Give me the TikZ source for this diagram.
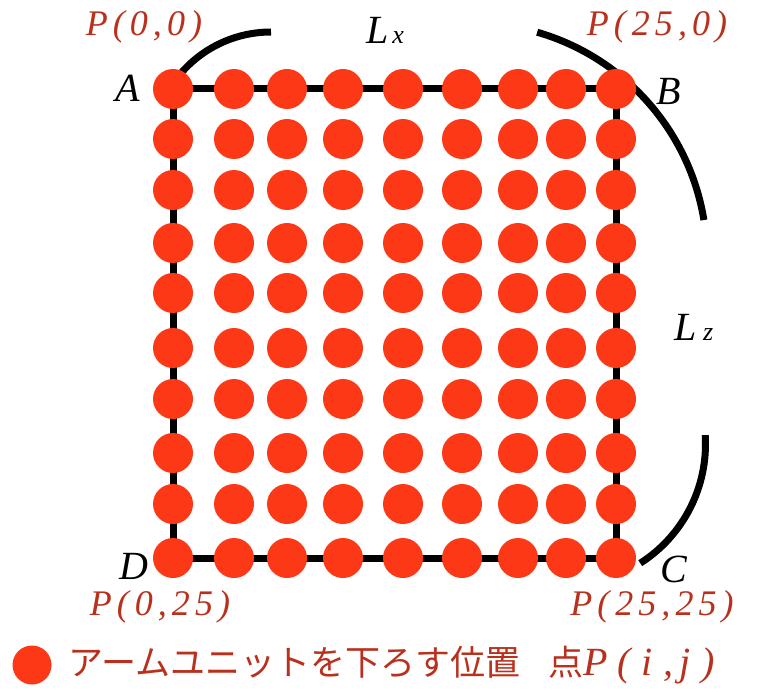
\documentclass[tikz,border=0pt]{standalone}
\usepackage{fontspec}
\setmainfont{Liberation Serif}
\newfontfamily\jpfont{Noto Sans CJK JP}
\newfontfamily\plab[LetterSpace=14]{Liberation Serif}
\newfontfamily\plabwide[LetterSpace=26]{Liberation Serif}
\definecolor{dotred}{RGB}{252,56,22}
\definecolor{labred}{RGB}{185,48,28}
\tikzset{
  dot/.style={circle,fill=dotred,inner sep=0pt,minimum size=40pt},
  frame/.style={line width=7pt,black},
  bracearc/.style={line width=7pt,black},
  corner/.style={font=\fontsize{40}{40}\selectfont\itshape,inner sep=0pt},
  plabel/.style={text=labred,font=\plab\fontsize{36}{36}\selectfont\itshape,inner sep=0pt},
  lenlabel/.style={inner sep=0pt}
}
\begin{document}
\begin{tikzpicture}[x=1pt,y=-1pt]
\useasboundingbox (0,0) rectangle (771,695);
\coordinate (A) at (173,89);
\coordinate (B) at (616,89);
\coordinate (C) at (616,558);
\coordinate (D) at (173,558);
\draw[frame] (A) -- (B) -- (C) -- (D) -- cycle;
% arcs
\coordinate (O1) at (271,151);
\coordinate (O2) at (472,258);
\coordinate (O3) at (564,444);
\draw[bracearc] (O1) ++(-145:119) arc[start angle=-145,end angle=-90,radius=119];
\draw[bracearc] (O2) ++(-73.9:235) arc[start angle=-73.9,end angle=-9.3,radius=235];
\draw[bracearc] (O3) ++(-3.6:141.5) arc[start angle=-3.6,end angle=57.4,radius=141.5];
% dots
\foreach \x [count=\i] in {173,234,287,343,403,462,518,566,616}{
  \foreach \y [count=\j] in {89,139,190,243,293,348,399,453,504,558}{
    \node[dot] (p-\i-\j) at (\x,\y) {};
  }
}
% corner letters
\node[corner] (lA) at (128,88) {A};
\node[corner] (lB) at (669,91) {B};
\node[corner] (lC) at (674,569) {C};
\node[corner] (lD) at (134,566) {D};
% P labels
\node[plabel] (P00) at (144,27) {P(0,0)};
\node[plabel] (P250) at (657,27) {P(\,25,0)};
\node[plabel] (P025) at (160,607) {P(\,0,25)};
\node[plabel] (P2525) at (652,607) {P(\,25,25)};
% lengths
\node[lenlabel] (Lx) at (385,30) {\fontsize{40}{40}\selectfont\itshape L\kern4pt\fontsize{26}{26}\selectfont x};
\node[lenlabel] (Lz) at (694,327) {\fontsize{40}{40}\selectfont\itshape L\kern6pt\fontsize{26}{26}\selectfont z};
% legend
\node[dot,minimum size=39pt] (leg) at (32,665) {};
\node[anchor=west,inner sep=0pt,text=labred] (legtext) at (68,665)
  {\jpfont\fontsize{35}{35}\selectfont アームユニットを下ろす位置\hspace{0.8em}点\plabwide\fontsize{40}{40}\selectfont\itshape P(i,\,j)};
\end{tikzpicture}
\end{document}
